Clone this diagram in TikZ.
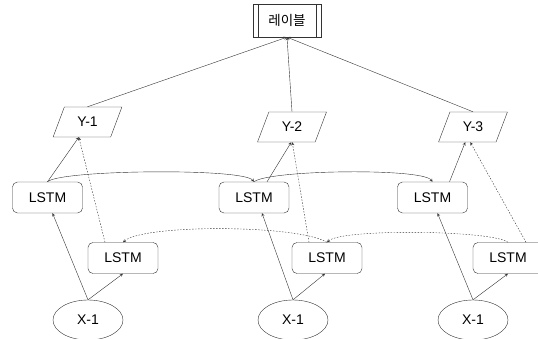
\documentclass[tikz,border=0pt]{standalone}
\usepackage{fontspec}
\setmainfont{Liberation Sans}
\newfontfamily\kofont{Noto Sans CJK KR}
\usetikzlibrary{shapes.geometric, arrows}
\tikzstyle{arrow} = [thin,draw=black!80,->,>=stealth]
\tikzstyle{dotarrow} = [thin,draw=black!80,->,>=stealth,dash pattern=on 1.5pt off 1.5pt]
\tikzstyle{cell} = [draw=black!80,thin,rounded corners=5pt,minimum width=70pt,minimum height=31pt,font=\fontsize{14}{16}\selectfont]
\tikzstyle{outbox} = [draw=black!80,thin,trapezium,trapezium left angle=68,trapezium right angle=112,trapezium stretches=true,minimum width=69pt,minimum height=30pt,font=\fontsize{14}{16}\selectfont]
\tikzstyle{inbox} = [draw=black!80,thin,ellipse,minimum width=70pt,minimum height=40pt,font=\fontsize{14}{16}\selectfont]

\begin{document}
\begin{tikzpicture}[x=1pt,y=-1pt]
					\useasboundingbox (0,0) rectangle (538,339);
					
					%Nodes
					\node [draw=black!80,thin,minimum width=68pt,minimum height=33pt,font=\kofont\fontsize{13.5}{15}\selectfont] (label) at (287,20.5) {레이블};
					\node (yA) [outbox] at (87.5,122) {Y-1};
					\node (yB) [outbox] at (292,127) {Y-2};
					\node (yC) [outbox] at (473,127) {Y-3};
					\node (lstmA) [cell] at (47.5,197.5) {LSTM};
					\node (lstmB) [cell] at (254,197.5) {LSTM};
					\node (lstmC) [cell] at (432.5,197.5) {LSTM};
					\node (lstmD) [cell] at (123,258) {LSTM};
					\node (lstmE) [cell] at (327,258) {LSTM};
					\node (lstmF) [cell] at (508,258) {LSTM};
					\node (xA) [inbox] at (88,320) {X-1};
					\node (xB) [inbox] at (293,320) {X-1};
					\node (xC) [inbox] at (473,320) {X-1};
					\draw[black!80,thin] ([xshift=5pt]label.north west) -- ([xshift=5pt]label.south west);
					\draw[black!80,thin] ([xshift=-5pt]label.north east) -- ([xshift=-5pt]label.south east);
					
					%Lines
					\draw[arrow] (yA.north) -- (label.south);
					\draw[arrow] (yB.north) -- (label.south);
					\draw[arrow] (yC.north) -- (label.south);
					\draw[arrow] (lstmA.north) -- ([xshift=-3pt]yA.bottom side);
					\draw[arrow] ([xshift=13pt]lstmB.north) -- ([xshift=5pt]yB.bottom side);
					\draw[arrow] ([xshift=17pt]lstmC.north) -- ([xshift=-2pt]yC.bottom side);
					\draw[dotarrow] ([xshift=-18pt]lstmD.north) -- ([xshift=-3pt]yA.bottom side);
					\draw[dotarrow] ([xshift=-18pt]lstmE.north) -- ([xshift=6pt]yB.bottom side);
					\draw[dotarrow] ([xshift=18pt]lstmF.north) -- ([xshift=3pt]yC.bottom side);
					\draw[arrow] (lstmA.north) .. controls +(12,-12) and +(-11,-14) .. (lstmB.north);
					\draw[arrow] (lstmB.north) .. controls +(15,-12) and +(-10,-14) .. (lstmC.north);
					\draw[dotarrow] (lstmF.north) .. controls +(-15,-12) and +(15,-14) .. (lstmE.north);
					\draw[dotarrow] (lstmE.north) .. controls +(-30,-18) and +(20,-18) .. (lstmD.north);
					\draw[arrow] (xA.north) -- ([xshift=5pt]lstmA.south);
					\draw[arrow] (xB.north) -- ([xshift=8pt]lstmB.south);
					\draw[arrow] (xC.north) -- ([xshift=5pt]lstmC.south);
					\draw[arrow] (xA.north) -- (lstmD.south);
					\draw[arrow] (xB.north) -- ([xshift=-2pt]lstmE.south);
					\draw[arrow] (xC.north) -- (lstmF.south);
				\end{tikzpicture}
\end{document}
